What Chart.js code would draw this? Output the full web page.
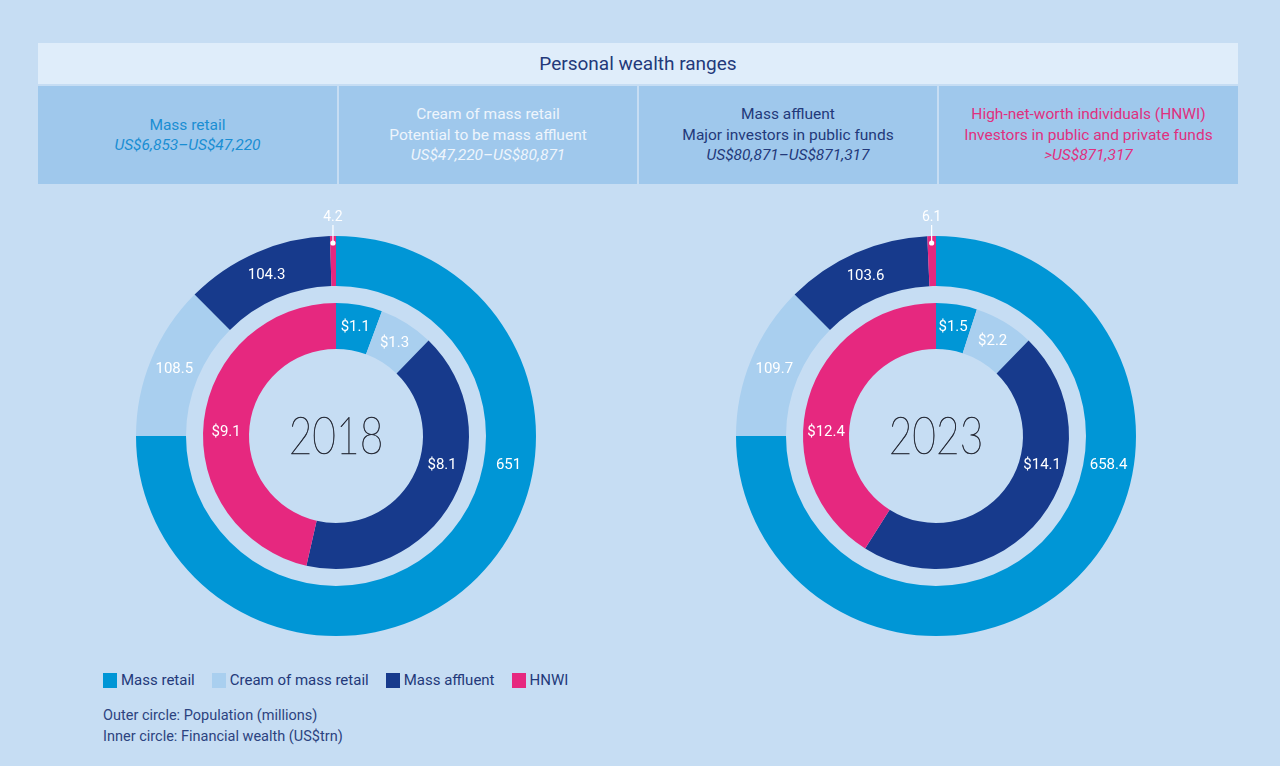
<!DOCTYPE html>
<html>
<head>
<meta charset="utf-8">
<script src="https://cdn.jsdelivr.net/npm/chart.js@4.4.1/dist/chart.umd.min.js"></script>
<style>
  html, body { margin: 0; padding: 0; }
  body { width: 1280px; height: 766px; background: #c6ddf3; position: relative; overflow: hidden;
         font-family: Roboto, "Liberation Sans", sans-serif; }
  #title { position: absolute; left: 38px; top: 43px; width: 1200px; height: 41px; background: #dfedfa;
           color: #23397a; font-size: 19px; line-height: 41px; text-align: center; }
  .cell { position: absolute; top: 86px; height: 98px; background: #9fc8ec; display: flex;
          flex-direction: column; justify-content: center; align-items: center; text-align: center;
          font-size: 15.5px; line-height: 20.5px; }
  .cell i { font-style: italic; }
  .wrap { position: absolute; top: 196px; width: 400px; height: 440px; }
  #legend { position: absolute; left: 103px; top: 671px; display: flex; gap: 17px; font-size: 15px; color: #23397a; }
  #legend span { display: flex; align-items: center; }
  #legend b { display: inline-block; width: 14px; height: 15px; margin-right: 4px; }
  .note { position: absolute; left: 103px; font-size: 14.5px; color: #2c4380; }
</style>
</head>
<body>
<div id="title">Personal wealth ranges</div>
<div class="cell" style="left:38px;width:299px;color:#1a8ed3">Mass retail<i>US$6,853–US$47,220</i></div>
<div class="cell" style="left:339px;width:298px;color:#eef5fc">Cream of mass retail<span>Potential to be mass affluent</span><i>US$47,220–US$80,871</i></div>
<div class="cell" style="left:639px;width:298px;color:#23397a">Mass affluent<span>Major investors in public funds</span><i>US$80,871–US$871,317</i></div>
<div class="cell" style="left:939px;width:299px;color:#e0307f">High-net-worth individuals (HNWI)<span>Investors in public and private funds</span><i>&gt;US$871,317</i></div>

<div class="wrap" style="left:136px"><canvas id="c2018" width="400" height="440"></canvas></div>
<div class="wrap" style="left:736px"><canvas id="c2023" width="400" height="440"></canvas></div>

<div id="legend"></div>
<div class="note" style="top:707px">Outer circle: Population (millions)</div>
<div class="note" style="top:728px">Inner circle: Financial wealth (US$trn)</div>

<script>
// wealth segments, clockwise from 12 o'clock
const segments = ["Mass retail", "Cream of mass retail", "Mass affluent", "HNWI"];
const segColors = ["#0096d6", "#a9cfef", "#173a8c", "#e6287f"];

// outer circle: population (millions)
const population2018 = [651, 108.5, 104.3, 4.2];
const population2023 = [658.4, 109.7, 103.6, 6.1];
// inner circle: financial wealth (US$trn)
const wealth2018 = [1.1, 1.3, 8.1, 9.1];
const wealth2023 = [1.5, 2.2, 14.1, 12.4];

const legend = document.getElementById("legend");
segments.forEach((s, i) => {
  legend.innerHTML += `<span><b style="background:${segColors[i]}"></b>${s}</span>`;
});

// big arcs get their label near the horizontal instead of mid-arc
const RIGHT_DY = 29;
const LEFT_DY = -4;

const ringLabels = {
  id: "ringLabels",
  afterDatasetsDraw(chart, args, opts) {
    const ctx = chart.ctx;
    ctx.save();
    ctx.textAlign = "center";
    ctx.textBaseline = "middle";
    chart.data.datasets.forEach((ds, di) => {
      if (ds.prefix === undefined) return;
      chart.getDatasetMeta(di).data.forEach((arc, i) => {
        const p = arc.getProps(["x", "y", "startAngle", "endAngle", "innerRadius", "outerRadius"], true);
        const span = p.endAngle - p.startAngle;
        const text = ds.prefix + ds.data[i];
        let a = (p.startAngle + p.endAngle) / 2;
        const r = (p.innerRadius + p.outerRadius) / 2;
        ctx.fillStyle = "#fff";
        if (span < 0.1) {
          // thin slice: leader line up out of the ring
          const lx = p.x + Math.cos(a) * p.outerRadius;
          const top = p.y - p.outerRadius;
          ctx.strokeStyle = "#fff";
          ctx.lineWidth = 1.2;
          ctx.beginPath();
          ctx.moveTo(lx, top + 7);
          ctx.lineTo(lx, top - 11);
          ctx.stroke();
          ctx.beginPath();
          ctx.arc(lx, top + 7, 2.6, 0, Math.PI * 2);
          ctx.fill();
          ctx.font = "14px Roboto";
          ctx.fillText(text, lx, top - 19);
          return;
        }
        if (span > 2.2) {
          const right = Math.asin(RIGHT_DY / r);
          const left = Math.PI - Math.asin(LEFT_DY / r);
          if (right > p.startAngle && right < p.endAngle) a = right;
          else if (left > p.startAngle && left < p.endAngle) a = left;
        }
        ctx.font = "15px Roboto";
        ctx.fillText(text, p.x + Math.cos(a) * r, p.y + Math.sin(a) * r);
      });
    });
    // year in the middle, thin face
    const m = chart.getDatasetMeta(0).data[0];
    ctx.fillStyle = "#262a36";
    ctx.strokeStyle = "#262a36";
    ctx.lineWidth = 0.6;
    ctx.font = "200 51px Lato, Roboto";
    ctx.translate(m.x, m.y + 2);
    ctx.scale(0.8, 1);
    ctx.fillText(opts.year, 0, 0);
    ctx.strokeText(opts.year, 0, 0);
    ctx.restore();
  }
};

function makeDonut(id, year, population, wealth) {
  new Chart(document.getElementById(id), {
    type: "doughnut",
    data: {
      labels: segments,
      datasets: [
        { data: population, prefix: "", backgroundColor: segColors, borderWidth: 0, weight: 50 },
        { data: [1], backgroundColor: "rgba(0,0,0,0)", borderWidth: 0, weight: 17 },
        { data: wealth, prefix: "$", backgroundColor: segColors, borderWidth: 0, weight: 46 }
      ]
    },
    options: {
      responsive: false,
      animation: false,
      events: [],
      cutout: "43.5%",
      layout: { padding: { top: 40 } },
      plugins: { legend: { display: false }, tooltip: { enabled: false }, ringLabels: { year } }
    },
    plugins: [ringLabels]
  });
}

makeDonut("c2018", "2018", population2018, wealth2018);
makeDonut("c2023", "2023", population2023, wealth2023);
</script>
</body>
</html>
